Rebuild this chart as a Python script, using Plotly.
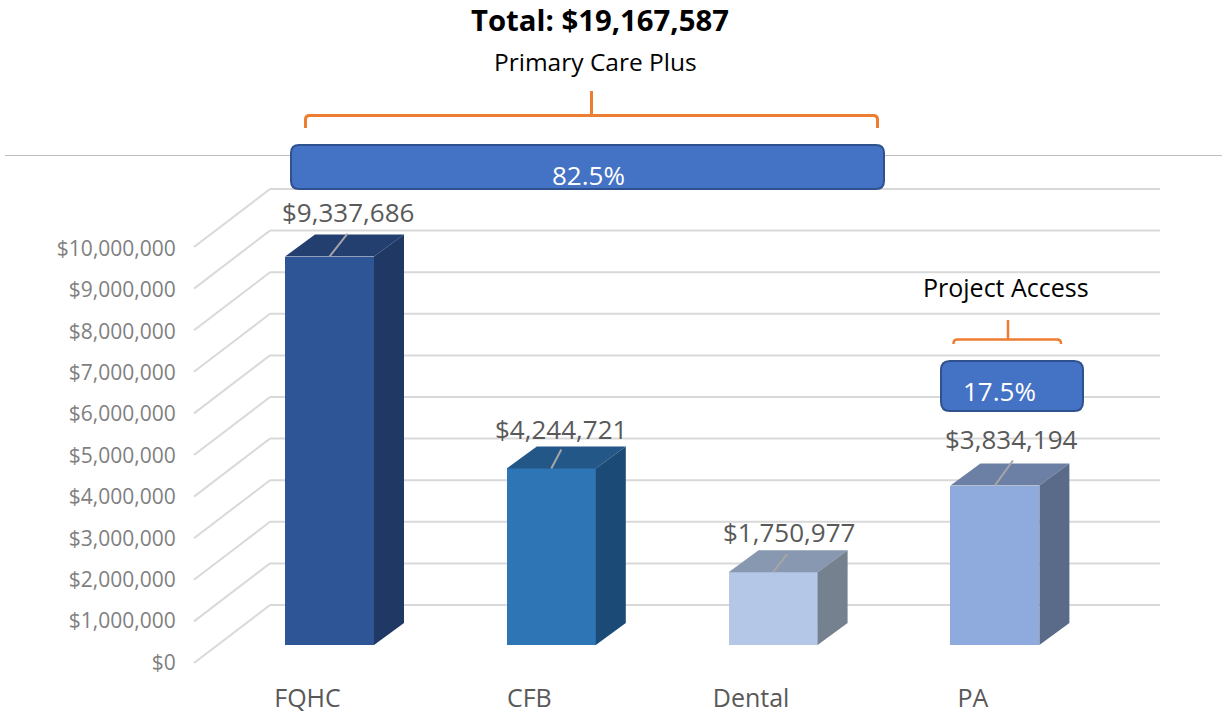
import plotly.graph_objects as go

categories = ["FQHC", "CFB", "Dental", "PA"]
values = [9337686, 4244721, 1750977, 3834194]
front_colors = ["#2E5596", "#2E75B6", "#B4C7E7", "#8FAADC"]
top_colors = ["#223F70", "#225787", "#8798B0", "#6C80A5"]
side_colors = ["#1F3864", "#1B4A76", "#75818F", "#5A6B8A"]
tick_values = [i * 1000000 for i in range(11)]
value_labels = ["$9,337,686", "$4,244,721", "$1,750,977", "$3,834,194"]

W, H = 1222, 714
ML, MB = 185, 40
PX_PER_CAT = 221.8
PX_PER_USD = 41.6e-6
X0_PX, Y0_PX = 329.5, 645.0


def data_x(px):
    return (px - X0_PX) / PX_PER_CAT


def data_y(py):
    return (Y0_PX - py) / PX_PER_USD


def pap_x(px):
    return (px - ML) / (W - ML)


def pap_y(py):
    return 1 - py / (H - MB)


DX = 30 / PX_PER_CAT
DY = 22 / PX_PER_USD
BAR_W = 89 / PX_PER_CAT

fig = go.Figure()

idx = list(range(len(categories)))
fig.add_trace(go.Bar(x=idx, y=values, width=BAR_W, marker=dict(color=front_colors, line=dict(width=0)),
                     hoverinfo="skip", showlegend=False))

for i, v in enumerate(values):
    l, r = i - BAR_W / 2, i + BAR_W / 2
    fig.add_trace(go.Scatter(x=[l, r, r + DX, l + DX, l], y=[v, v, v + DY, v + DY, v], fill="toself", mode="lines",
                             fillcolor=top_colors[i], line=dict(width=0), hoverinfo="skip", showlegend=False))
    fig.add_trace(go.Scatter(x=[r, r + DX, r + DX, r, r], y=[0, DY, v + DY, v, 0], fill="toself", mode="lines",
                             fillcolor=side_colors[i], line=dict(width=0), hoverinfo="skip", showlegend=False))

leader_dx = [18, 10, 14, 18]
leader_dy = [23, 19, 18, 25]
for i, v in enumerate(values):
    fig.add_trace(go.Scatter(x=[i, i + leader_dx[i] / PX_PER_CAT], y=[v, v + leader_dy[i] / PX_PER_USD], mode="lines",
                             line=dict(color="#A6A6A6", width=2), hoverinfo="skip", showlegend=False))

# invisible trace that keeps the tick-label axis alive
fig.add_trace(go.Scatter(x=[0], y=[0], yaxis="y2", mode="markers", marker=dict(opacity=0), hoverinfo="skip", showlegend=False))

shapes = []
back_dy = 40 / PX_PER_USD
for t in tick_values:
    shapes.append(dict(type="line", layer="below", xref="x", yref="y", x0=data_x(270), x1=data_x(1160),
                       y0=t + back_dy, y1=t + back_dy, line=dict(color="#D9D9D9", width=2)))
    shapes.append(dict(type="line", layer="below", xref="x", yref="y", x0=data_x(194), x1=data_x(270),
                       y0=t - 18 / PX_PER_USD, y1=t + back_dy, line=dict(color="#D9D9D9", width=2)))

shapes.append(dict(type="line", layer="below", xref="paper", yref="paper", x0=pap_x(5), x1=pap_x(1222),
                   y0=pap_y(155.5), y1=pap_y(155.5), line=dict(color="#BFBFBF", width=1)))


def rbox(x0, y0, x1, y1, r):
    pts = [
        f"M {pap_x(x0 + r)} {pap_y(y0)}", f"L {pap_x(x1 - r)} {pap_y(y0)}",
        f"Q {pap_x(x1)} {pap_y(y0)} {pap_x(x1)} {pap_y(y0 + r)}", f"L {pap_x(x1)} {pap_y(y1 - r)}",
        f"Q {pap_x(x1)} {pap_y(y1)} {pap_x(x1 - r)} {pap_y(y1)}", f"L {pap_x(x0 + r)} {pap_y(y1)}",
        f"Q {pap_x(x0)} {pap_y(y1)} {pap_x(x0)} {pap_y(y1 - r)}", f"L {pap_x(x0)} {pap_y(y0 + r)}",
        f"Q {pap_x(x0)} {pap_y(y0)} {pap_x(x0 + r)} {pap_y(y0)}", "Z",
    ]
    return dict(type="path", xref="paper", yref="paper", path=" ".join(pts), fillcolor="#4472C4",
                line=dict(color="#2F528F", width=2), layer="above")


def bracket(x0, x1, xm, ytop, ylow, ytip, r, width):
    p = (f"M {pap_x(x0)} {pap_y(ylow)} L {pap_x(x0)} {pap_y(ytop + r)} "
         f"Q {pap_x(x0)} {pap_y(ytop)} {pap_x(x0 + r)} {pap_y(ytop)} L {pap_x(x1 - r)} {pap_y(ytop)} "
         f"Q {pap_x(x1)} {pap_y(ytop)} {pap_x(x1)} {pap_y(ytop + r)} L {pap_x(x1)} {pap_y(ylow)} "
         f"M {pap_x(xm)} {pap_y(ytop)} L {pap_x(xm)} {pap_y(ytip)}")
    return dict(type="path", xref="paper", yref="paper", path=p, line=dict(color="#ED7D31", width=width), layer="above")


shapes.append(rbox(291, 145, 884, 189, 8))
shapes.append(rbox(941, 361, 1083, 411, 9))
shapes.append(bracket(305.5, 877.5, 591.5, 115.5, 128, 91, 4, 3))
shapes.append(bracket(953.5, 1061, 1008, 339.5, 344, 320, 4, 2.5))


def note(text, px, py, size, color="#000000", bold=False):
    return dict(text=f"<b>{text}</b>" if bold else text, xref="paper", yref="paper", x=pap_x(px), y=pap_y(py),
                xanchor="center", yanchor="middle", showarrow=False, font=dict(family="Open Sans", size=size, color=color))


annotations = [
    note("Total: $19,167,587", 600, 20, 29.3, bold=True),
    note("Primary Care Plus", 595, 62, 24.5),
    note("Project Access", 1006, 287, 25),
    note("82.5%", 588, 175, 26, "#FFFFFF"),
    note("17.5%", 999, 391, 26, "#FFFFFF"),
]
label_dx = [18.5, 10, 16, 17]
label_dy = [45, 39, 40, 47]
for i, v in enumerate(values):
    annotations.append(dict(text=value_labels[i], x=i, y=v, xref="x", yref="y", xshift=label_dx[i], yshift=label_dy[i],
                            xanchor="center", yanchor="middle", showarrow=False,
                            font=dict(family="Open Sans", size=26, color="#595959")))

label_zero_py, label_top_py = 662.5, 248.5
usd_per_px_labels = 10000000 / (label_zero_py - label_top_py)

fig.update_layout(
    width=W, height=H, autosize=False, margin=dict(l=ML, r=0, t=0, b=MB, pad=0),
    paper_bgcolor="#FFFFFF", plot_bgcolor="rgba(0,0,0,0)", bargap=0, showlegend=False,
    shapes=shapes, annotations=annotations,
    xaxis=dict(range=[data_x(ML), data_x(W)], tickvals=[i - 22 / PX_PER_CAT for i in idx], ticktext=categories,
               automargin=False, showgrid=False, zeroline=False, showline=False, ticks="outside", ticklen=2,
               tickcolor="rgba(0,0,0,0)", tickfont=dict(family="Open Sans", size=25, color="#595959")),
    yaxis=dict(range=[data_y(H - MB), data_y(0)], visible=False, showgrid=False, zeroline=False, automargin=False),
    yaxis2=dict(overlaying="y", side="left", anchor="x", showgrid=False, zeroline=False, showline=False, automargin=False,
                range=[(label_zero_py - (H - MB)) * usd_per_px_labels, label_zero_py * usd_per_px_labels],
                tickvals=tick_values, tickformat="$,.0f", ticks="outside", ticklen=4, tickcolor="rgba(0,0,0,0)",
                tickfont=dict(family="Open Sans", size=21, color="#7F7F7F")),
)

fig.write_html("out.html", config=dict(displayModeBar=False),
               post_script="document.body.style.margin='0';")
